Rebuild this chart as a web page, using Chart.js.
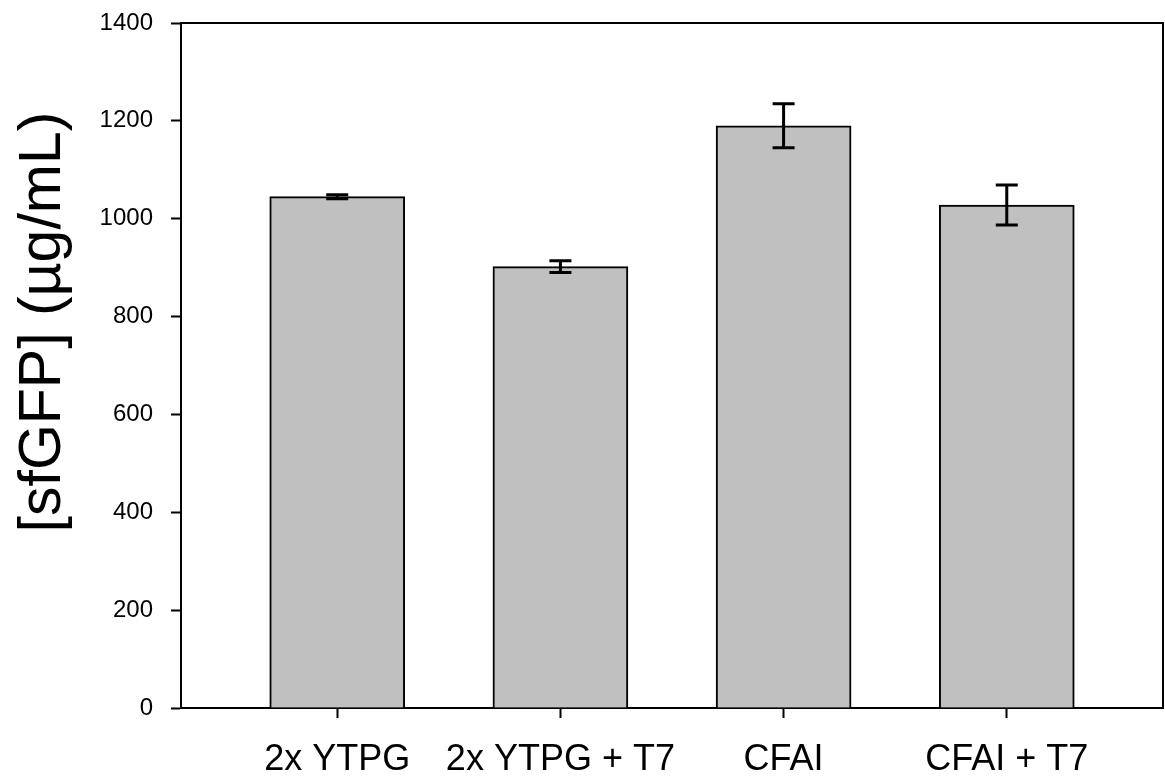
<!DOCTYPE html>
<html>
<head>
<meta charset="utf-8">
<script src="https://cdn.jsdelivr.net/npm/chart.js@4.4.1/dist/chart.umd.min.js"></script>
<style>
  html, body { margin: 0; padding: 0; background: #fff; }
  #wrap { width: 1165px; height: 778px; }
</style>
</head>
<body>
<div id="wrap"><canvas id="bar"></canvas></div>
<script>
const categories = ['2x YTPG', '2x YTPG + T7', 'CFAI', 'CFAI + T7'];
const values = [1045, 902, 1190, 1028];
const errors = [4, 12, 45, 41];
const yTicks = [0, 200, 400, 600, 800, 1000, 1200, 1400];

const font = "'Liberation Sans', Arial, sans-serif";

// error bars drawn from the scales
const errorBars = {
  id: 'errorBars',
  afterDatasetsDraw(chart) {
    const { ctx, scales: { x, y } } = chart;
    ctx.save();
    ctx.strokeStyle = '#000';
    ctx.lineWidth = 3;
    values.forEach((v, i) => {
      const px = x.getPixelForValue(i);
      const top = y.getPixelForValue(v + errors[i]);
      const bot = y.getPixelForValue(v - errors[i]);
      ctx.beginPath();
      ctx.moveTo(px, top); ctx.lineTo(px, bot);
      ctx.moveTo(px - 11, top); ctx.lineTo(px + 11, top);
      ctx.moveTo(px - 11, bot); ctx.lineTo(px + 11, bot);
      ctx.stroke();
    });
    ctx.restore();
  }
};

// top and right frame lines + y title
const frame = {
  id: 'frame',
  afterDraw(chart) {
    const { ctx, chartArea: a } = chart;
    ctx.save();
    ctx.strokeStyle = '#000';
    ctx.lineWidth = 2;
    ctx.beginPath();
    ctx.moveTo(a.left, a.top);
    ctx.lineTo(a.right, a.top);
    ctx.lineTo(a.right, a.bottom);
    ctx.stroke();
    ctx.translate(44, 322);
    ctx.rotate(-Math.PI / 2);
    ctx.fillStyle = '#000';
    ctx.font = '59px ' + font;
    ctx.textAlign = 'center';
    ctx.textBaseline = 'middle';
    ctx.fillText('[sfGFP] (µg/mL)', 0, 0);
    ctx.restore();
  }
};

const bar = document.getElementById('bar');

new Chart(bar, {
  type: 'bar',
  data: {
    datasets: [{
      data: values.map((v, i) => ({ x: i, y: v })),
      backgroundColor: '#c0c0c0',
      borderColor: '#000',
      borderWidth: 2,
      barThickness: 135
    }]
  },
  options: {
    responsive: true,
    maintainAspectRatio: false,
    animation: false,
    layout: { padding: { top: 23, right: 2, left: 0, bottom: 0 } },
    plugins: { legend: { display: false }, tooltip: { enabled: false } },
    scales: {
      x: {
        type: 'linear',
        min: -0.7,
        max: 3.7,
        offset: false,
        afterBuildTicks: (s) => { s.ticks = categories.map((c, i) => ({ value: i })); },
        afterFit: (s) => { s.height = 70; s.paddingLeft = 0; s.paddingRight = 0; },
        ticks: {
          color: '#000',
          font: { family: font, size: 36 },
          padding: 20,
          maxRotation: 0,
          autoSkip: false,
          callback: (v) => categories[v]
        },
        grid: { offset: false, drawOnChartArea: false, tickLength: 10, tickWidth: 2, tickColor: '#000' },
        border: { color: '#000', width: 2 }
      },
      y: {
        min: 0,
        max: 1400,
        afterBuildTicks: (s) => { s.ticks = yTicks.map(v => ({ value: v })); },
        afterFit: (s) => { s.width = 181; s.paddingTop = 0; s.paddingBottom = 0; },
        ticks: {
          color: '#000',
          font: { family: font, size: 24 },
          padding: 18,
          callback: (v) => String(v)
        },
        grid: { drawOnChartArea: false, tickLength: 10, tickWidth: 2, tickColor: '#000' },
        border: { color: '#000', width: 2 }
      }
    }
  },
  plugins: [errorBars, frame]
});
</script>
</body>
</html>
